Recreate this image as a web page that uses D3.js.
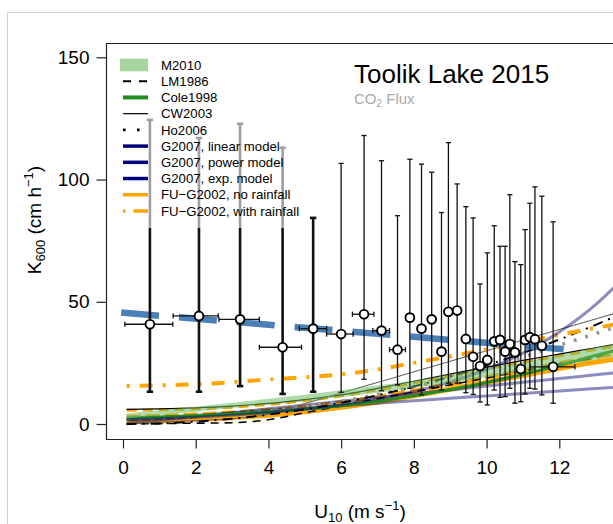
<!DOCTYPE html>
<html><head><meta charset="utf-8">
<script src="https://cdn.jsdelivr.net/npm/d3@7"></script>
<style>body{margin:0;background:#fff}svg{display:block}text{font-family:"Liberation Sans",Arial,Helvetica,sans-serif}</style>
</head><body><svg id="c" width="613" height="524"></svg>
<script>
// ---------- data ----------
const xTicks = [0, 2, 4, 6, 8, 10, 12];
const yTicks = [0, 50, 100, 150];
const uGrid = [0.1, 1, 2, 3, 4, 5, 6, 7, 8, 9, 10, 11, 12, 13, 14];
const m2010Lo = [2.3, 3.6, 5.0, 6.5, 7.9, 9.3, 11.0, 12.8, 14.8, 16.8, 19.0, 21.4, 23.8, 26.3, 28.8];
const m2010Hi = [4.3, 5.6, 7.1, 8.7, 10.3, 12.0, 13.8, 15.7, 17.8, 20.4, 22.9, 25.5, 28.2, 31.3, 34.0];
const lm1986 = [0.02, 0.17, 0.34, 0.51, 1.75, 4.6, 7.45, 10.3, 13.15, 16.0, 18.85, 21.7, 24.55, 27.4, 33.3];
const cole1998 = [2.5, 2.9, 3.4, 4.1, 5.0, 6.1, 7.5, 9.3, 11.5, 14.1, 17.0, 20.3, 24.0, 28.0, 32.0];
const cw2003 = [0.07, 0.72, 1.44, 2.16, 4.02, 8.35, 12.68, 17.01, 21.34, 25.67, 30.0, 34.33, 38.66, 42.99, 47.32];
const blackSolid = [6.0, 6.2, 6.6, 7.3, 8.4, 10.0, 11.9, 14.6, 17.5, 20.4, 23.3, 26.0, 28.6, 31.2, 33.8];
const ho2006 = [0.01, 0.24, 0.96, 2.16, 3.84, 6.0, 8.64, 11.76, 15.36, 19.44, 24.0, 29.04, 34.56, 40.56, 47.04];
const g2007Lin = [1.6, 2.5, 3.5, 4.5, 5.5, 6.5, 7.5, 8.5, 9.5, 10.5, 11.5, 12.5, 13.5, 14.5, 15.5];
const g2007Pow = [0.2, 1.55, 3.1, 4.65, 6.2, 7.75, 9.3, 10.85, 12.4, 13.95, 15.5, 17.05, 18.6, 20.15, 21.7];
const g2007Exp = [1.7, 2.16, 2.8, 3.63, 4.7, 6.1, 7.9, 10.3, 13.3, 17.2, 22.3, 29.0, 37.6, 48.8, 63.3];
const fuNoRain = [0.8, 1.2, 1.8, 2.6, 3.6, 5.0, 6.8, 9.0, 11.5, 14.2, 17.0, 19.8, 22.7, 25.3, 27.5];
const fuNoRainB = [2.8, 3.2, 3.8, 4.6, 5.6, 7.0, 8.8, 11.0, 13.5, 16.2, 19.0, 21.8, 24.7, 27.4, 30.0];
const fuNoRainC = [5.6, 5.8, 6.2, 6.9, 8.0, 9.6, 11.5, 14.0, 16.8, 19.7, 22.6, 25.3, 27.9, 30.5, 33.0];
const fuRain = [15.5, 15.8, 16.3, 17.1, 18.2, 19.1, 20.3, 22.3, 25.0, 27.7, 30.5, 33.5, 36.5, 39.3, 42.0];
const grayDot = [2.0, 2.4, 3.0, 4.0, 5.3, 7.0, 9.3, 12.0, 15.3, 19.0, 23.0, 27.4, 32.2, 37.0, 42.0];
const regU = [-0.05, 12.34];
const regK = [45.6, 30.3];

const ptU = [0.74, 2.09, 3.22, 4.39, 5.23, 6.0, 6.63, 7.11, 7.55, 7.89, 8.21, 8.49, 8.76, 8.95, 9.19, 9.43, 9.63, 9.82, 10.02, 10.21, 10.37, 10.51, 10.64, 10.78, 10.94, 11.06, 11.19, 11.33, 11.52, 11.83];
const ptK = [40.8, 44.2, 42.8, 31.4, 39.0, 36.8, 44.9, 38.2, 30.4, 43.5, 39.0, 42.8, 29.6, 45.9, 46.4, 34.8, 27.5, 23.7, 26.2, 33.8, 34.4, 29.6, 32.7, 29.3, 22.5, 34.4, 35.5, 34.7, 32.0, 23.4];
const ptKhi = [124.4, 117, 122.8, 113, 84.3, 106.6, 118, 107.7, 85.2, 108.3, 106.3, 103, 86.5, 115.1, 98.2, 88.9, 84.3, 57.3, 70, 81.1, 72.7, 72.7, 93.8, 66.4, 65.2, 79.5, 90.3, 97, 93.2, 82.7];
const ptKlo = [13.2, 13.2, 15.5, 12.3, 13.2, 13.0, 18.3, 13.6, 16.0, 14.6, 11.9, 15.0, 13.9, 16.7, 16.7, 12.8, 12.1, 9.0, 7.8, 13.9, 10.9, 11.2, 14.6, 8.5, 9.1, 12.3, 14.6, 14.3, 11.9, 8.5];
const ptUlo = [0.05, 1.38, 2.64, 3.75, 4.85, 5.6, 6.31, 6.87, 7.33, null, null, null, null, null, null, null, null, null, null, null, null, null, null, null, null, null, null, null, null, 11.2];
const ptUhi = [1.37, 2.62, 3.75, 4.91, 5.6, 6.33, 6.9, 7.33, 7.77, null, null, null, null, null, null, null, null, null, null, null, null, null, null, null, null, null, null, null, null, 12.43];

const legendLabels = ["M2010", "LM1986", "Cole1998", "CW2003", "Ho2006", "G2007, linear model", "G2007, power model", "G2007, exp. model", "FU\u2212G2002, no rainfall", "FU\u2212G2002, with rainfall"];

// ---------- drawing ----------
const svg = d3.select("#c");
const box = {l: 106, t: 43, r: 615, b: 439};
const x = d3.scaleLinear().domain([0, 12]).range([123, 559.3]);
const y = d3.scaleLinear().domain([0, 150]).range([424, 57.3]);

svg.append("path").attr("d", "M7.5,524V12.5H613").attr("fill", "none").attr("stroke", "#cfcfcf").attr("stroke-width", 1);

svg.append("clipPath").attr("id", "clip").append("rect")
  .attr("x", box.l).attr("y", box.t).attr("width", box.r - box.l).attr("height", box.b - box.t);
const g = svg.append("g").attr("clip-path", "url(#clip)");

const navyA = "rgba(0,0,110,0.45)";
const series = [
  {v: fuNoRain, c: "#ffa500", w: 5, d: null},
  {v: fuNoRainB, c: "#ffa500", w: 4.5, d: "14,5"},
  {v: g2007Lin, c: navyA, w: 3, d: null},
  {v: g2007Pow, c: navyA, w: 3, d: null},
  {v: grayDot, c: "#999", w: 3.5, d: "3,9"},
  {v: lm1986, c: "#000", w: 1.6, d: "8,6"},
  {v: cole1998, c: "#228b22", w: 3, d: null},
  {v: fuNoRainC, c: "#ffa500", w: 3, d: "10,6"},
  {v: blackSolid, c: "#000", w: 1.2, d: null},
  {v: cw2003, c: "#666", w: 1.1, d: null},
  {v: ho2006, c: "#000", w: 2, d: "10,6,2,6"},
  {v: fuRain, c: "#ffa500", w: 4, d: "3,10,13,10"},
  {v: g2007Exp, c: navyA, w: 3, d: null}
];
const line = d3.line().x(d => x(d[0])).y(d => y(d[1])).curve(d3.curveMonotoneX);
series.forEach(s => {
  g.append("path").attr("d", line(uGrid.map((u, i) => [u, s.v[i]])))
    .attr("fill", "none").attr("stroke", s.c).attr("stroke-width", s.w)
    .attr("stroke-dasharray", s.d);
});
const area = d3.area().x(d => x(d[0])).y0(d => y(d[1])).y1(d => y(d[2])).curve(d3.curveMonotoneX);
g.append("path").attr("d", area(uGrid.map((u, i) => [u, m2010Lo[i], m2010Hi[i]])))
  .attr("fill", "rgba(110,190,100,0.55)");

g.append("path").attr("d", d3.line().x(d => x(d[0])).y(d => y(d[1]))(regU.map((u, i) => [u, regK[i]])))
  .attr("stroke", "#4a80b6").attr("stroke-width", 6.5).attr("fill", "none").attr("stroke-dasharray", "38,20");

// error bars
ptU.forEach((u, i) => {
  const thick = i < 5;
  const sw = thick ? 2.6 : 1.3, cw = thick ? 3.2 : 2.6;
  const X = x(u);
  g.append("line").attr("x1", X).attr("x2", X).attr("y1", y(ptKlo[i])).attr("y2", y(ptKhi[i])).attr("stroke", "#111").attr("stroke-width", sw);
  [ptKlo[i], ptKhi[i]].forEach(k => g.append("line").attr("x1", X - cw).attr("x2", X + cw).attr("y1", y(k)).attr("y2", y(k)).attr("stroke", "#111").attr("stroke-width", sw));
  if (ptUlo[i] != null) {
    const Y = y(ptK[i]);
    g.append("line").attr("x1", x(ptUlo[i])).attr("x2", x(ptUhi[i])).attr("y1", Y).attr("y2", Y).attr("stroke", "#111").attr("stroke-width", 1.3);
    [ptUlo[i], ptUhi[i]].forEach(uu => g.append("line").attr("x1", x(uu)).attr("x2", x(uu)).attr("y1", Y - 2.6).attr("y2", Y + 2.6).attr("stroke", "#111").attr("stroke-width", 1.3));
  }
});
g.selectAll("circle.pt").data(ptU).join("circle").attr("class", "pt")
  .attr("cx", (d) => x(d)).attr("cy", (d, i) => y(ptK[i])).attr("r", 4.4)
  .attr("fill", "#fff").attr("stroke", "#000").attr("stroke-width", 1.9);

// box
svg.append("path").attr("d", `M${box.r},${box.t + 0.5}H${box.l + 0.5}V${box.b + 0.5}H${box.r}`).attr("fill", "none").attr("stroke", "#222").attr("stroke-width", 1.2);

// axes
const ax = svg.append("g").attr("transform", `translate(0,${box.b + 0.5})`)
  .call(d3.axisBottom(x).tickValues(xTicks).tickSize(9).tickPadding(12).tickFormat(d3.format("d")));
const ay = svg.append("g").attr("transform", `translate(${box.l + 0.5},0)`)
  .call(d3.axisLeft(y).tickValues(yTicks).tickSize(10).tickPadding(7).tickFormat(d3.format("d")));
[ax, ay].forEach(a => {
  a.select(".domain").remove();
  a.selectAll("line").attr("stroke", "#222").attr("stroke-width", 1.2);
  a.selectAll("text").attr("font-size", 19).attr("fill", "#000").attr("font-family", '"Liberation Sans",Arial,sans-serif');
});

// axis titles
const xt = svg.append("text").attr("x", 360).attr("y", 518).attr("text-anchor", "middle").attr("font-size", 19);
xt.append("tspan").text("U");
xt.append("tspan").text("10").attr("font-size", 13).attr("dy", 4);
xt.append("tspan").text(" (m s").attr("dy", -4);
xt.append("tspan").text("\u22121").attr("font-size", 13).attr("dy", -8);
xt.append("tspan").text(")").attr("dy", 8);

const yt = svg.append("text").attr("transform", "translate(41,220) rotate(-90)").attr("text-anchor", "middle").attr("font-size", 19);
yt.append("tspan").text("K");
yt.append("tspan").text("600").attr("font-size", 13).attr("dy", 4);
yt.append("tspan").text(" (cm h").attr("dy", -4);
yt.append("tspan").text("\u22121").attr("font-size", 13).attr("dy", -8);
yt.append("tspan").text(")").attr("dy", 8);

// legend
svg.append("rect").attr("x", 112).attr("y", 50).attr("width", 198).attr("height", 178).attr("fill", "rgba(255,255,255,0.6)");
const lg = svg.append("g");
const ly = i => 65 + i * 16.22;
lg.append("rect").attr("x", 120).attr("y", ly(0) - 6.3).attr("width", 28).attr("height", 12.6).attr("fill", "#a6d69d");
const legStyles = [null,
  {c: "#000", w: 2, d: "8,8"},
  {c: "#228b22", w: 4, d: null},
  {c: "#000", w: 1.2, d: null},
  {c: "#000", w: 2.6, d: "2.6,11.4"},
  {c: "#000080", w: 3.5, d: null},
  {c: "#000080", w: 3.5, d: null},
  {c: "#000080", w: 3.5, d: null},
  {c: "#ffa500", w: 3.5, d: null},
  {c: "#ffa500", w: 3.5, d: "2.5,8,18,4"}
];
legStyles.forEach((s, i) => {
  if (!s) return;
  lg.append("line").attr("x1", 123).attr("x2", 148).attr("y1", ly(i)).attr("y2", ly(i))
    .attr("stroke", s.c).attr("stroke-width", s.w).attr("stroke-dasharray", s.d);
});
lg.selectAll("text").data(legendLabels).join("text").attr("x", 161).attr("y", (d, i) => ly(i) + 4.7)
  .attr("font-size", 13.2).attr("fill", "#000").text(d => d);

// title
svg.append("text").attr("x", 354).attr("y", 83).attr("font-size", 26).attr("fill", "#000").text("Toolik Lake 2015");
const st = svg.append("text").attr("x", 354).attr("y", 104).attr("font-size", 15).attr("fill", "#aaa");
st.append("tspan").text("CO");
st.append("tspan").text("2").attr("font-size", 10).attr("dy", 3);
st.append("tspan").text(" Flux").attr("dy", -3);
</script></body></html>
